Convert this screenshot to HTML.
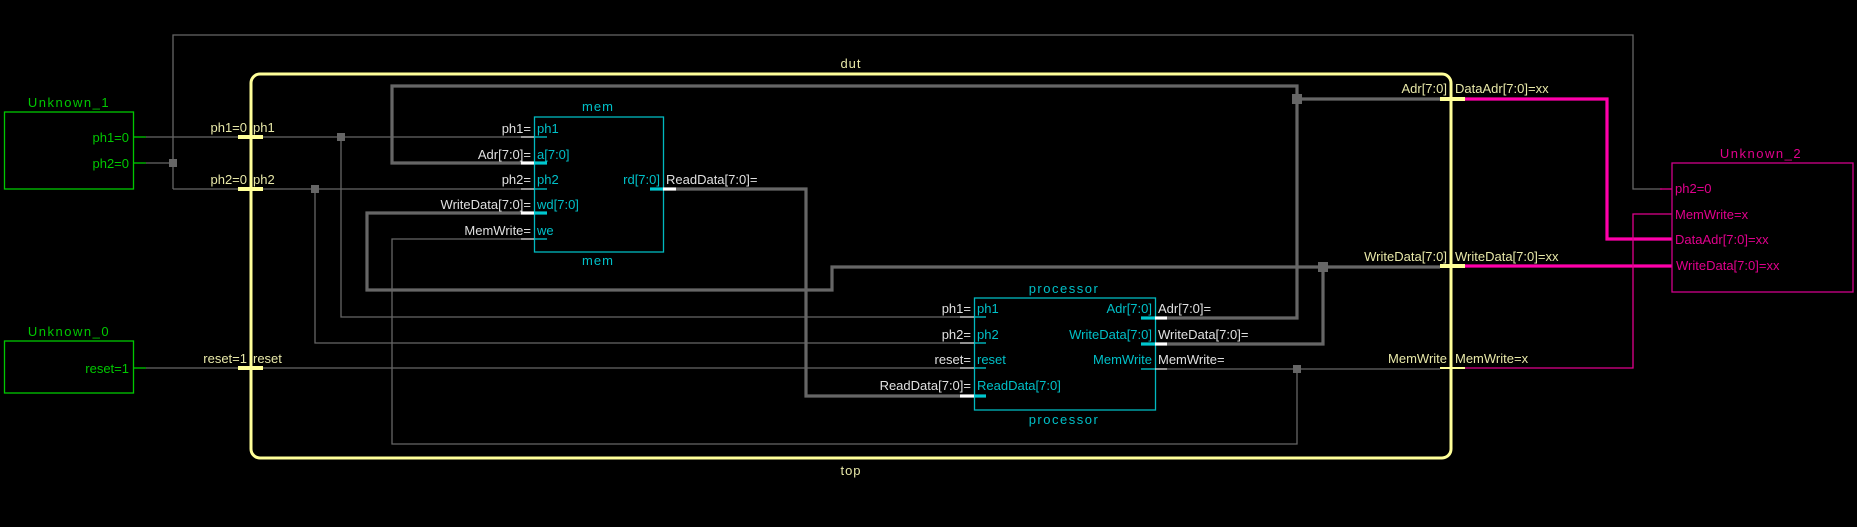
<!DOCTYPE html>
<html><head><meta charset="utf-8"><style>
html,body{margin:0;padding:0;background:#000;}
svg{display:block;}
text{font-family:"Liberation Sans",sans-serif;font-size:13px;}
</style></head><body>
<svg width="1857" height="527" viewBox="0 0 1857 527" xmlns="http://www.w3.org/2000/svg">
<rect width="1857" height="527" fill="#000"/>
<!-- thin gray wires -->
<g stroke="#666" stroke-width="1.3" fill="none">
<polyline points="146,137 535,137"/>
<polyline points="146,163 173,163"/>
<polyline points="173,189 173,35 1633,35 1633,189 1662,189"/>
<polyline points="173,189 521,189"/>
<polyline points="341,137 341,317 960,317"/>
<polyline points="315,189 315,343 960,343"/>
<polyline points="146,368 960,368"/>
<polyline points="521,239 392,239 392,444 1297,444 1297,369"/>
<polyline points="1167,369 1440,369"/>
</g>
<!-- thick gray buses -->
<g stroke="#666" stroke-width="3.2" fill="none">
<polyline points="521,163 392,163 392,86 1297,86 1297,318 1167,318"/>
<polyline points="1297,99 1440,99"/>
<polyline points="521,213 367,213 367,290 832,290 832,267 1440,267"/>
<polyline points="1167,344 1323,344 1323,267"/>
<polyline points="676,189 806,189 806,396 960,396"/>
</g>
<!-- junctions -->
<g fill="#666">
<rect x="169" y="159" width="8" height="8"/>
<rect x="337" y="133" width="8" height="8"/>
<rect x="311" y="185" width="8" height="8"/>
<rect x="1292" y="94" width="10" height="10"/>
<rect x="1318" y="262" width="10" height="10"/>
<rect x="1293" y="365" width="8" height="8"/>
</g>
<!-- dut box -->
<rect x="251" y="74" width="1200" height="384" rx="9" fill="none" stroke="#ffff99" stroke-width="3"/>
<g stroke="#ffff99" stroke-width="4">
<line x1="238" y1="137" x2="263" y2="137"/>
<line x1="238" y1="189" x2="263" y2="189"/>
<line x1="238" y1="368" x2="263" y2="368"/>
<line x1="1440" y1="99" x2="1465" y2="99"/>
<line x1="1440" y1="266" x2="1465" y2="266"/>
<line x1="1440" y1="368" x2="1465" y2="368" stroke-width="2"/>
</g>
<g fill="#e8e8a8">
<text x="851" y="68" text-anchor="middle" letter-spacing="1">dut</text>
<text x="851" y="475" text-anchor="middle" letter-spacing="1">top</text>
<text x="247" y="132" text-anchor="end">ph1=0</text><text x="253" y="132">ph1</text>
<text x="247" y="184" text-anchor="end">ph2=0</text><text x="253" y="184">ph2</text>
<text x="247" y="363" text-anchor="end">reset=1</text><text x="253" y="363">reset</text>
<text x="1447" y="93" text-anchor="end">Adr[7:0]</text><text x="1455" y="93">DataAdr[7:0]=xx</text>
<text x="1447" y="261" text-anchor="end">WriteData[7:0]</text><text x="1455" y="261">WriteData[7:0]=xx</text>
<text x="1447" y="363" text-anchor="end">MemWrite</text><text x="1455" y="363">MemWrite=x</text>
</g>
<!-- Unknown_1 -->
<rect x="4.5" y="112" width="129" height="77" fill="none" stroke="#00c800" stroke-width="1.3"/>
<g stroke="#00c800" stroke-width="1.3"><line x1="134" y1="137" x2="146" y2="137"/><line x1="134" y1="163" x2="146" y2="163"/><line x1="134" y1="368" x2="146" y2="368"/></g>
<g fill="#00c800">
<text x="69" y="107" text-anchor="middle" font-size="14" letter-spacing="1.5">Unknown_1</text>
<text x="129" y="142" text-anchor="end">ph1=0</text>
<text x="129" y="168" text-anchor="end">ph2=0</text>
<text x="69" y="336" text-anchor="middle" font-size="14" letter-spacing="1.5">Unknown_0</text>
<text x="129" y="373" text-anchor="end">reset=1</text>
</g>
<rect x="4.5" y="341" width="129" height="52" fill="none" stroke="#00c800" stroke-width="1.3"/>
<!-- mem -->
<rect x="534.5" y="117" width="129" height="135" fill="none" stroke="#00b8c0" stroke-width="1.3"/>
<g stroke-width="1.3">
<line x1="521" y1="137" x2="534" y2="137" stroke="#ddd"/><line x1="534" y1="137" x2="547" y2="137" stroke="#00c8d0"/>
<line x1="521" y1="189" x2="534" y2="189" stroke="#ddd"/><line x1="534" y1="189" x2="547" y2="189" stroke="#00c8d0"/>
<line x1="521" y1="239" x2="534" y2="239" stroke="#ddd"/><line x1="534" y1="239" x2="547" y2="239" stroke="#00c8d0"/>
</g>
<g stroke-width="3.2">
<line x1="521" y1="163" x2="534" y2="163" stroke="#fff"/><line x1="534" y1="163" x2="547" y2="163" stroke="#00c8d0"/>
<line x1="521" y1="213" x2="534" y2="213" stroke="#fff"/><line x1="534" y1="213" x2="547" y2="213" stroke="#00c8d0"/>
<line x1="650" y1="189" x2="663" y2="189" stroke="#00c8d0"/><line x1="663" y1="189" x2="676" y2="189" stroke="#fff"/>
</g>
<g fill="#00c0c8">
<text x="598" y="111" text-anchor="middle" letter-spacing="1">mem</text>
<text x="598" y="265" text-anchor="middle" letter-spacing="1">mem</text>
<text x="537" y="133">ph1</text><text x="537" y="159">a[7:0]</text><text x="537" y="184">ph2</text>
<text x="537" y="209">wd[7:0]</text><text x="537" y="235">we</text>
<text x="660" y="184" text-anchor="end">rd[7:0]</text>
</g>
<g fill="#e0e0e0">
<text x="531" y="133" text-anchor="end">ph1=</text><text x="531" y="159" text-anchor="end">Adr[7:0]=</text>
<text x="531" y="184" text-anchor="end">ph2=</text><text x="531" y="209" text-anchor="end">WriteData[7:0]=</text>
<text x="531" y="235" text-anchor="end">MemWrite=</text>
<text x="666" y="184">ReadData[7:0]=</text>
</g>
<!-- processor -->
<rect x="974.5" y="298" width="181" height="112" fill="none" stroke="#00b8c0" stroke-width="1.3"/>
<g stroke-width="1.3">
<line x1="960" y1="317" x2="974" y2="317" stroke="#ddd"/><line x1="974" y1="317" x2="986" y2="317" stroke="#00c8d0"/>
<line x1="960" y1="343" x2="974" y2="343" stroke="#ddd"/><line x1="974" y1="343" x2="986" y2="343" stroke="#00c8d0"/>
<line x1="960" y1="368" x2="974" y2="368" stroke="#ddd"/><line x1="974" y1="368" x2="986" y2="368" stroke="#00c8d0"/>
<line x1="1141" y1="369" x2="1155" y2="369" stroke="#00c8d0"/><line x1="1155" y1="369" x2="1167" y2="369" stroke="#ddd"/>
</g>
<g stroke-width="3.2">
<line x1="960" y1="396" x2="974" y2="396" stroke="#fff"/><line x1="974" y1="396" x2="986" y2="396" stroke="#00c8d0"/>
<line x1="1141" y1="318" x2="1155" y2="318" stroke="#00c8d0"/><line x1="1155" y1="318" x2="1167" y2="318" stroke="#fff"/>
<line x1="1141" y1="344" x2="1155" y2="344" stroke="#00c8d0"/><line x1="1155" y1="344" x2="1167" y2="344" stroke="#fff"/>
</g>
<g fill="#00c0c8">
<text x="1064" y="293" text-anchor="middle" letter-spacing="1.5">processor</text>
<text x="1064" y="424" text-anchor="middle" letter-spacing="1.5">processor</text>
<text x="977" y="313">ph1</text><text x="977" y="339">ph2</text><text x="977" y="364">reset</text><text x="977" y="390">ReadData[7:0]</text>
<text x="1152" y="313" text-anchor="end">Adr[7:0]</text><text x="1152" y="339" text-anchor="end">WriteData[7:0]</text><text x="1152" y="364" text-anchor="end">MemWrite</text>
</g>
<g fill="#e0e0e0">
<text x="971" y="313" text-anchor="end">ph1=</text><text x="971" y="339" text-anchor="end">ph2=</text>
<text x="971" y="364" text-anchor="end">reset=</text><text x="971" y="390" text-anchor="end">ReadData[7:0]=</text>
<text x="1158" y="313">Adr[7:0]=</text><text x="1158" y="339">WriteData[7:0]=</text><text x="1158" y="364">MemWrite=</text>
</g>
<!-- pink -->
<g stroke="#ff00aa" fill="none">
<polyline points="1465,99 1607,99 1607,239 1672,239" stroke-width="3.2"/>
<polyline points="1465,266 1672,266" stroke-width="3.2"/>
<polyline points="1465,368 1633,368 1633,214 1672,214" stroke-width="1.3" stroke="#e0008c"/>
<line x1="1660" y1="189" x2="1672" y2="189" stroke-width="1.3" stroke="#e0008c"/>
</g>
<rect x="1672" y="163" width="181" height="129" fill="none" stroke="#d0008a" stroke-width="1.3"/>
<g fill="#e0008c">
<text x="1761" y="158" text-anchor="middle" font-size="14" letter-spacing="1.5">Unknown_2</text>
<text x="1675" y="193">ph2=0</text>
<text x="1675" y="219">MemWrite=x</text>
<text x="1675" y="244">DataAdr[7:0]=xx</text>
<text x="1676" y="270">WriteData[7:0]=xx</text>
</g>
</svg>
</body></html>
